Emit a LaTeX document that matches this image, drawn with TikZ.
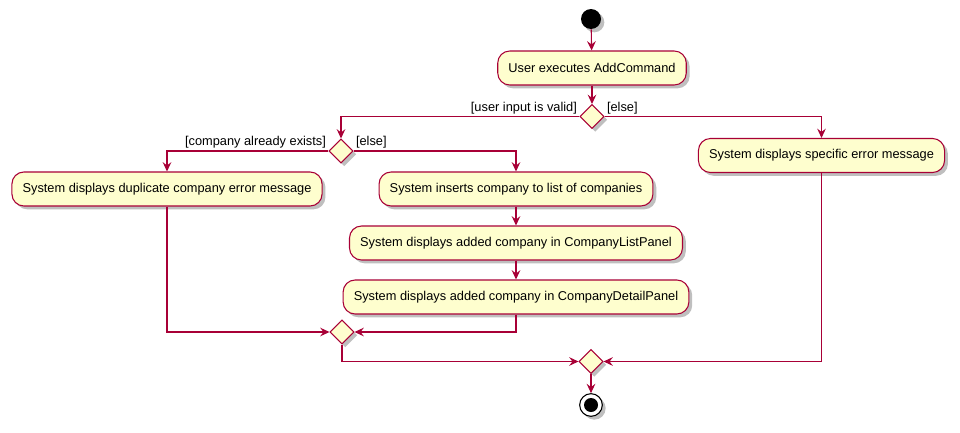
\documentclass[tikz,border=0pt]{standalone}
\usepackage{fontspec}
\setmainfont{Liberation Sans}
\usetikzlibrary{shapes.geometric,arrows.meta,shadows}
\definecolor{umlred}{HTML}{A80036}
\definecolor{umlfill}{HTML}{FEFECE}

\begin{document}
\begin{tikzpicture}[x=0.75pt,y=-0.75pt,
        font=\fontsize{9.6}{11.5}\selectfont,
        shade/.style={drop shadow={shadow xshift=2.5pt,shadow yshift=-2.5pt,opacity=0.25,fill=black}},
        action/.style={draw=umlred,fill=umlfill,line width=0.8pt,rounded corners=9pt,
            inner xsep=8pt,minimum height=25.5pt,shade},
        choice/.style={diamond,draw=umlred,fill=umlfill,line width=0.8pt,inner sep=0pt,
            minimum width=18pt,minimum height=18pt,shade},
        flow/.style={draw=umlred,line width=0.8pt,-{Stealth[length=7pt,width=6.5pt,inset=2.5pt]}},
        guard/.style={inner sep=1.5pt}]
        \useasboundingbox (0,0) rectangle (960,432);
        % start and first action
        \node [circle,fill=black,minimum size=15pt,inner sep=0pt,shade] (start) at (591,19) {};
        \node [action] (cmd) at (592,68) {User executes AddCommand};
        \node [choice] (valid) at (592,116.5) {};
        % outcomes
        \node [action] (err) at (821.5,155.5) {System displays specific error message};
        \node [choice] (exists) at (341,151) {};
        \node [action] (dup) at (167,189) {System displays duplicate company error message};
        \node [action] (ins) at (516,189) {System inserts company to list of companies};
        \node [action] (list) at (516,243) {System displays added company in CompanyListPanel};
        \node [action] (detail) at (516,297) {System displays added company in CompanyDetailPanel};
        % merges and end
        \node [choice] (merge) at (342,332) {};
        \node [choice] (join) at (591,361.5) {};
        \node [circle,draw=black,fill=white,line width=0.8pt,minimum size=17pt,inner sep=0pt,shade] (stop) at (591,405) {};
        \node [circle,fill=black,minimum size=10.5pt,inner sep=0pt] (stopdot) at (stop) {};

        \draw [flow] (start) -- (cmd);
        \draw [flow] (cmd) -- (valid);
        \draw [flow] (valid.west) node [guard,above left] {[user input is valid]} -| (exists.north);
        \draw [flow] (valid.east) node [guard,above right] {[else]} -| (err.north);
        \draw [flow] (exists.west) node [guard,above left] {[company already exists]} -| (dup.north);
        \draw [flow] (exists.east) node [guard,above right] {[else]} -| (ins.north);
        \draw [flow] (ins) -- (list);
        \draw [flow] (list) -- (detail);
        \draw [flow] (dup.south) |- (merge.west);
        \draw [flow] (detail.south) |- (merge.east);
        \draw [flow] (merge.south) |- (join.west);
        \draw [flow] (err.south) |- (join.east);
        \draw [flow] (join) -- (stop);
\end{tikzpicture}
\end{document}
